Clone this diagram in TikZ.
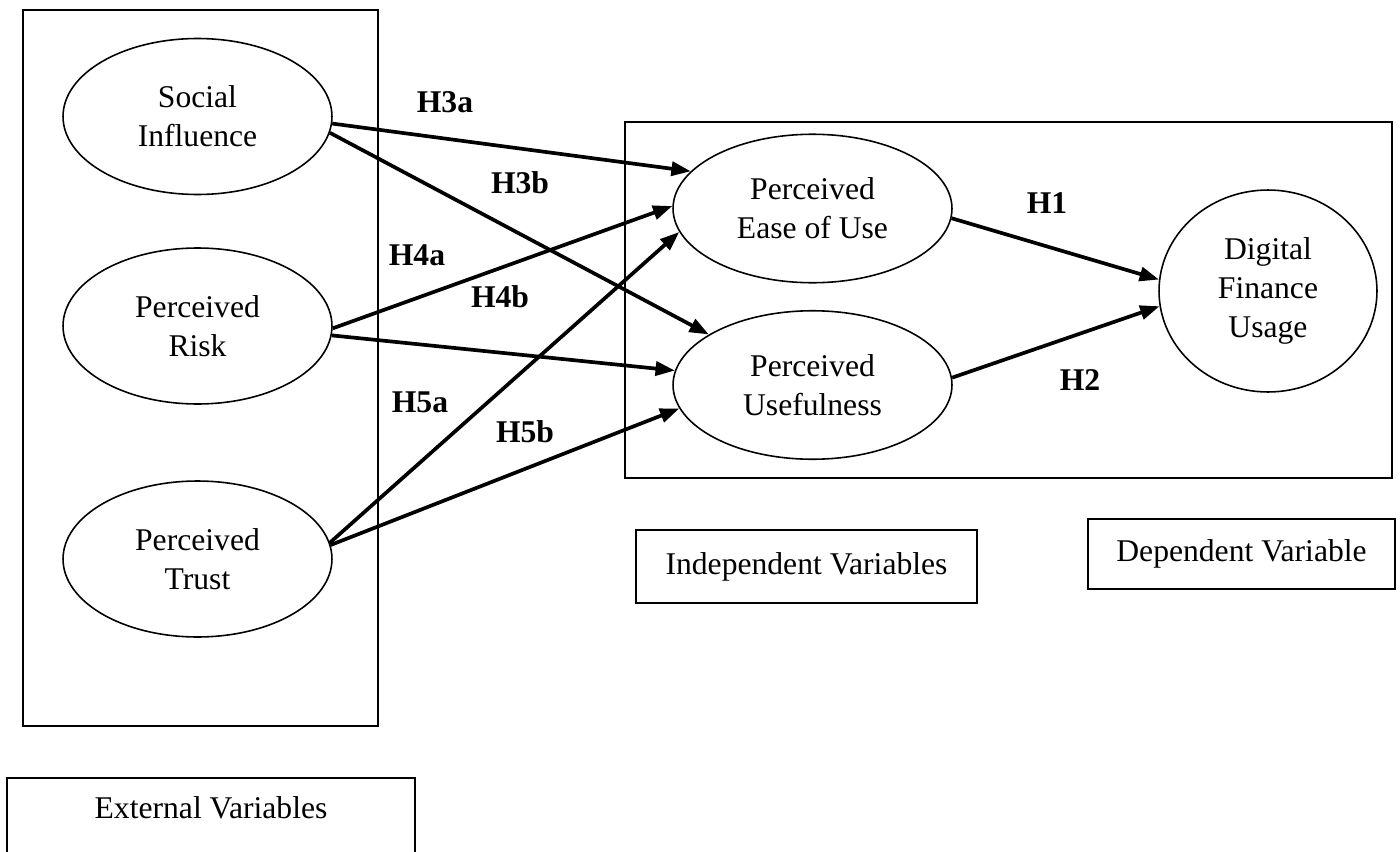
\documentclass[tikz,border=0pt]{standalone}
\usepackage{fontspec}
\setmainfont{Liberation Serif}
\usetikzlibrary{arrows.meta,shapes.geometric}
\begin{document}
\begin{tikzpicture}[x=0.02cm,y=-0.02cm,
  txt/.style={font=\fontsize{18}{22}\selectfont},
  var/.style={txt, draw, ellipse, line width=0.9pt, inner sep=0pt, align=center},
  extvar/.style={var, minimum width=5.38cm, minimum height=3.12cm},
  midvar/.style={var, minimum width=5.58cm, minimum height=2.97cm},
  hyp/.style={font=\fontsize{18}{22}\selectfont\bfseries, inner sep=0pt},
  link/.style={line width=2.1pt, -{Triangle[length=11pt,width=8pt]}},
  frame/.style={draw, line width=0.9pt},
  tag/.style={txt, draw, rectangle, line width=1.3pt, inner sep=0pt}
]
\useasboundingbox (0,0) rectangle (1400,852);
\clip (0,0) rectangle (1400,852);

% frames
\draw[frame] (23,10) rectangle (378,726);
\draw[frame] (625,122) rectangle (1392,478);
\draw[tag] (7,778) rectangle (415,880);
\node[txt, anchor=base] (extlab) at (211,818) {External Variables};

% variables
\node[extvar] (si) at (197.5,116.5) {Social\\Influence};
\node[extvar] (pr) at (197.5,326) {Perceived\\Risk};
\node[extvar] (pt) at (197.5,559) {Perceived\\Trust};
\node[midvar] (peou) at (812.5,208.5) {Perceived\\Ease of Use};
\node[midvar] (pu) at (812.5,385) {Perceived\\Usefulness};
\node[var, minimum width=4.36cm, minimum height=4.04cm] (dfu) at (1268,291) {Digital\\Finance\\Usage};

% tags
\node[tag, minimum width=6.82cm, minimum height=1.46cm] (ind) at (806.5,566.5) {Independent Variables};
\node[tag, minimum width=6.14cm, minimum height=1.40cm] (dep) at (1241.5,554) {Dependent Variable};

% connectors
\draw[link] (si.-3) -- (peou.163.6);
\draw[link] (si.-7) -- (pu.154.5);
\draw[link] (pr.-1) -- (peou.179);
\draw[link] (pr.-4) -- (pu.174.6);
\draw[link] (pt.7.5) -- (peou.190.6);
\draw[link] (pt.6.5) -- (pu.190.8);
\draw[link] (peou.-4.7) -- (dfu.174);
\draw[link] (pu.3.3) -- (dfu.188.7);

% labels
\node[hyp] (h3a) at (445,102) {H3a};
\node[hyp] (h3b) at (520,183) {H3b};
\node[hyp] (h4a) at (417,255) {H4a};
\node[hyp] (h4b) at (500,297) {H4b};
\node[hyp] (h5a) at (420,402) {H5a};
\node[hyp] (h5b) at (525,432) {H5b};
\node[hyp] (h1) at (1047,203) {H1};
\node[hyp] (h2) at (1080,380) {H2};
\end{tikzpicture}
\end{document}
